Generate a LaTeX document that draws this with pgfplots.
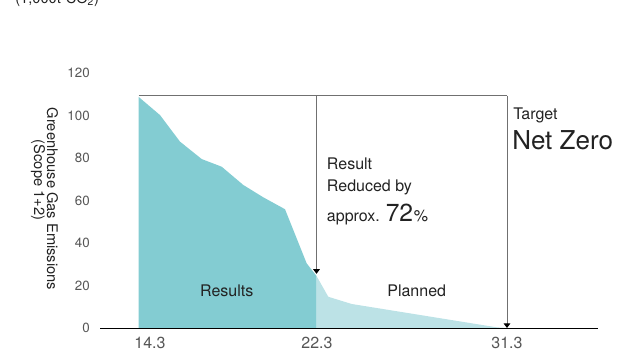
\documentclass[border=0pt]{standalone}
\usepackage{pgfplots}
\pgfplotsset{compat=1.18}
\usepackage{fontspec}
\setmainfont{TeX Gyre Heros}
\usetikzlibrary{arrows.meta}
\definecolor{resfill}{HTML}{83CCD2}
\definecolor{planfill}{HTML}{BCE2E6}
\definecolor{guide}{HTML}{707070}
\definecolor{txt}{HTML}{222222}
\definecolor{tick}{HTML}{555555}
\begin{document}
\begin{tikzpicture}
\begin{axis}[
  at={(75pt,16.5pt)}, anchor=south west,
  scale only axis, width=373.5pt, height=191.25pt,
  xmin=100, xmax=598, ymin=0, ymax=120,
  clip=false,
  axis x line*=bottom, axis y line*=left,
  x axis line style={-, black, line width=0.75pt},
  y axis line style={draw=none},
  major tick length=0pt,
  xtick={150,317,507}, xticklabels={14.3,22.3,31.3},
  ytick={0,20,40,60,80,100,120},
  /pgf/number format/assume math mode=true,
  xticklabel style={font=\fontsize{12pt}{14pt}\selectfont, text=tick, inner sep=0pt, anchor=north, yshift=-6.4pt},
  yticklabel style={font=\fontsize{10pt}{12pt}\selectfont, text=tick, inner sep=0pt, anchor=east, xshift=-7.5pt},
]
\addplot[fill=resfill, draw=none] coordinates {
  (138.5,0) (138.5,108.8) (160,100.2) (180,87.7) (201.7,79.5) (221.7,75.9)
  (243.3,67.3) (263.3,61.5) (285,55.9) (306.7,30.4) (316.5,24.5) (316.5,0)
} -- cycle;
\addplot[fill=planfill, draw=none] coordinates {
  (316.5,0) (316.5,24.5) (328.3,14.7) (351.7,11.3) (497,0.3) (507,0)
} -- cycle;
\draw[guide, line width=0.75pt] (axis cs:138.5,109.3) -- (axis cs:507,109.3);
\draw[guide, line width=0.75pt, -{Triangle[width=5pt,length=3.5pt,color=black]}]
  (axis cs:316.5,109.3) -- (axis cs:316.5,25.5);
\draw[guide, line width=0.75pt, -{Triangle[width=5pt,length=3.5pt,color=black]}]
  (axis cs:507,109.3) -- (axis cs:507,0);
\draw[black, line width=0.75pt] (axis cs:100,0) -- (axis cs:598,0);
\begin{scope}[every node/.style={text=txt, inner sep=0pt}]
\node[anchor=base, font=\fontsize{12pt}{14pt}\selectfont] at (axis cs:226.7,14.6) {Results};
\node[anchor=base, font=\fontsize{12pt}{14pt}\selectfont] at (axis cs:416.7,14.6) {Planned};
\node[anchor=base west, font=\fontsize{12pt}{14pt}\selectfont] at (axis cs:326.7,74.8) {Result};
\node[anchor=base west, font=\fontsize{12pt}{14pt}\selectfont] at (axis cs:326.7,64.1) {Reduced by};
\node[anchor=base west, font=\fontsize{12pt}{14pt}\selectfont] at (axis cs:326.7,50.0) {approx. {\fontsize{18.5pt}{20pt}\selectfont 72}\kern0.5pt\%};
\node[anchor=base west, font=\fontsize{12pt}{14pt}\selectfont] at (axis cs:513,97.9) {Target};
\node[anchor=base west, font=\fontsize{19.5pt}{22pt}\selectfont] at (axis cs:512,83.8) {Net Zero};
\node[rotate=-90, font=\fontsize{11pt}{13pt}\selectfont] at (axis cs:52.5,60.7) {Greenhouse Gas Emissions};
\node[rotate=-90, font=\fontsize{11pt}{13pt}\selectfont] at (axis cs:38,69.6) {(Scope 1+2)};
\node[anchor=base west, font=\fontsize{11pt}{13pt}\selectfont] at (axis cs:15,152.6) {(1,000t-CO\textsubscript{2})};
\end{scope}
\end{axis}
\pgfresetboundingbox
\path[use as bounding box] (0,0) rectangle (462.75pt,262.5pt);
\end{tikzpicture}
\end{document}
